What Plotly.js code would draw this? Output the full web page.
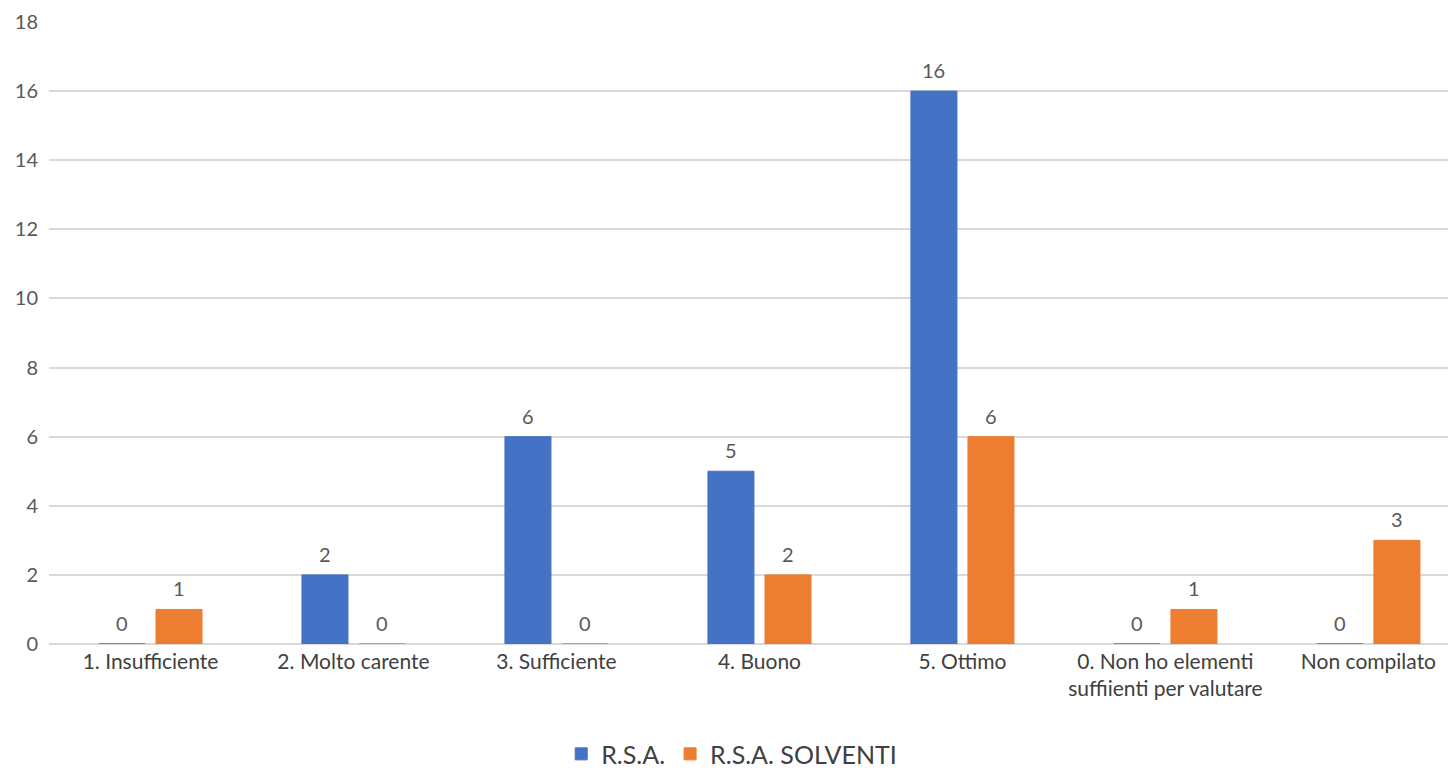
<!DOCTYPE html>
<html>
<head>
<meta charset="utf-8">
<script src="https://cdn.plot.ly/plotly-3.0.1.min.js"></script>
<style>html,body{margin:0;padding:0;background:#fff;}#chart{width:1448px;height:774px;}</style>
</head>
<body>
<div id="chart"></div>
<script>
const categories = ["1. Insufficiente", "2. Molto carente", "3. Sufficiente", "4. Buono", "5. Ottimo", "0. Non ho elementi<br>suffiienti per valutare", "Non compilato"];
const seriesNames = ["R.S.A.", "R.S.A. SOLVENTI"];
const rsa = [0, 2, 6, 5, 16, 0, 0];
const rsaSolventi = [1, 0, 0, 2, 6, 1, 3];
const colors = ["#4472C4", "#ED7D31"];
const yTicks = [0, 2, 4, 6, 8, 10, 12, 14, 16, 18];

const seriesValues = [rsa, rsaSolventi];
const data = seriesValues.map((vals, i) => ({
  type: 'bar', name: seriesNames[i], x: categories, y: vals,
  marker: {color: colors[i], line: {color: colors[i], width: 1}},
  hoverinfo: 'x+y'
}));

// value labels placed above each bar (offset to the bar's slot in the group)
const slotShift = 28.5;
const annotations = [];
seriesValues.forEach((vals, i) => {
  vals.forEach((v, j) => {
    annotations.push({
      x: categories[j], y: v, xref: 'x', yref: 'y', text: String(v), showarrow: false,
      xshift: (i === 0 ? -1 : 1) * slotShift, yanchor: 'bottom', yshift: 7,
      font: {family: 'Lato, Carlito, sans-serif', size: 20, color: '#595959'}
    });
  });
});

const layout = {
  width: 1448, height: 774,
  margin: {l: 49, r: 0, t: 22, b: 130, autoexpand: false},
  paper_bgcolor: '#fff', plot_bgcolor: '#fff',
  font: {family: 'Lato, Carlito, sans-serif', color: '#595959'},
  barmode: 'group', bargap: 0.438, bargroupgap: 0.193,
  annotations: annotations,
  xaxis: {
    range: [-0.5, 6.392],
    showgrid: false, zeroline: false, showline: false, ticks: '',
    tickfont: {size: 21, color: '#404040'}, automargin: false, ticklabelstandoff: 3
  },
  yaxis: {
    range: [0, 18], tickvals: yTicks, showgrid: true, gridcolor: '#d9d9d9', gridwidth: 1.5,
    zeroline: true, zerolinecolor: '#d9d9d9', zerolinewidth: 1.5,
    showline: false, ticks: '', ticklabelstandoff: 10,
    tickfont: {size: 20, color: '#595959'}, automargin: false
  },
  showlegend: true,
  legend: {orientation: 'h', x: 0.488, xanchor: 'center', y: -0.177, yanchor: 'middle',
    font: {size: 25, color: '#404040'}, itemwidth: 30, traceorder: 'normal'}
};
Plotly.newPlot('chart', data, layout, {displayModeBar: false});
</script>
</body>
</html>
